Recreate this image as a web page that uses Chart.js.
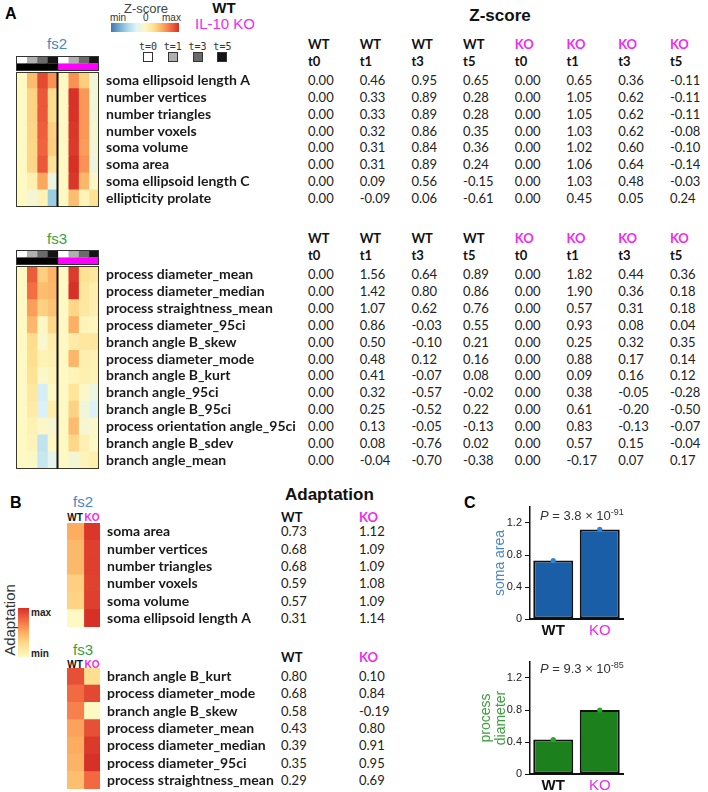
<!DOCTYPE html>
<html><head><meta charset="utf-8">
<script src="https://cdn.jsdelivr.net/npm/chart.js@4.4.1/dist/chart.umd.min.js"></script>
<style>
html,body{margin:0;padding:0;background:#fff;overflow:hidden;}
#root{position:relative;width:708px;height:792px;overflow:hidden;font-family:Lato,"Liberation Sans",sans-serif;}
.t{position:absolute;white-space:nowrap;}
canvas{position:absolute;}
.box{position:absolute;box-sizing:border-box;}
</style></head><body><div id="root"></div>
<script>
// ---------------- DATA ----------------
const zGroups = ['WT','WT','WT','WT','KO','KO','KO','KO'];
const zTimes  = ['t0','t1','t3','t5','t0','t1','t3','t5'];
const timeLegend = ['t=0','t=1','t=3','t=5'];

const fs2Features = ['soma ellipsoid length A','number vertices','number triangles','number voxels',
  'soma volume','soma area','soma ellipsoid length C','ellipticity prolate'];
const fs2Z = [
  [0.00, 0.46, 0.95, 0.65, 0.00, 0.65, 0.36,-0.11],
  [0.00, 0.33, 0.89, 0.28, 0.00, 1.05, 0.62,-0.11],
  [0.00, 0.33, 0.89, 0.28, 0.00, 1.05, 0.62,-0.11],
  [0.00, 0.32, 0.86, 0.35, 0.00, 1.03, 0.62,-0.08],
  [0.00, 0.31, 0.84, 0.36, 0.00, 1.02, 0.60,-0.10],
  [0.00, 0.31, 0.89, 0.24, 0.00, 1.06, 0.64,-0.14],
  [0.00, 0.09, 0.56,-0.15, 0.00, 1.03, 0.48,-0.03],
  [0.00,-0.09, 0.06,-0.61, 0.00, 0.45, 0.05, 0.24]
];
const fs3Features = ['process diameter_mean','process diameter_median','process straightness_mean',
  'process diameter_95ci','branch angle B_skew','process diameter_mode','branch angle B_kurt',
  'branch angle_95ci','branch angle B_95ci','process orientation angle_95ci','branch angle B_sdev','branch angle_mean'];
const fs3Z = [
  [0.00, 1.56, 0.64, 0.89, 0.00, 1.82, 0.44, 0.36],
  [0.00, 1.42, 0.80, 0.86, 0.00, 1.90, 0.36, 0.18],
  [0.00, 1.07, 0.62, 0.76, 0.00, 0.57, 0.31, 0.18],
  [0.00, 0.86,-0.03, 0.55, 0.00, 0.93, 0.08, 0.04],
  [0.00, 0.50,-0.10, 0.21, 0.00, 0.25, 0.32, 0.35],
  [0.00, 0.48, 0.12, 0.16, 0.00, 0.88, 0.17, 0.14],
  [0.00, 0.41,-0.07, 0.08, 0.00, 0.09, 0.16, 0.12],
  [0.00, 0.32,-0.57,-0.02, 0.00, 0.38,-0.05,-0.28],
  [0.00, 0.25,-0.52, 0.22, 0.00, 0.61,-0.20,-0.50],
  [0.00, 0.13,-0.05,-0.13, 0.00, 0.83,-0.13,-0.07],
  [0.00, 0.08,-0.76, 0.02, 0.00, 0.57, 0.15,-0.04],
  [0.00,-0.04,-0.70,-0.38, 0.00,-0.17, 0.07, 0.17]
];

const adGroups = ['WT','KO'];
const adFs2Features = ['soma area','number vertices','number triangles','number voxels','soma volume','soma ellipsoid length A'];
const adFs2WT = [0.73, 0.68, 0.68, 0.59, 0.57, 0.31];
const adFs2KO = [1.12, 1.09, 1.09, 1.08, 1.09, 1.14];
const adFs3Features = ['branch angle B_kurt','process diameter_mode','branch angle B_skew','process diameter_mean',
  'process diameter_median','process diameter_95ci','process straightness_mean'];
const adFs3WT = [0.80, 0.68, 0.58, 0.43, 0.39, 0.35, 0.29];
const adFs3KO = [0.10, 0.84,-0.19, 0.80, 0.91, 0.95, 0.69];

const cGroups = ['WT','KO'];
const somaAreaVals = [0.73, 1.12];
const processDiamVals = [0.43, 0.80];
const cTickLabels = [0, 0.4, 0.8, 1.2];

// ---------------- STYLE ----------------
const MAG = '#ee2bee';
const BLUE_T = '#4a86c6';
const GREEN_T = '#3a9e3a';
const posStops = ['#fef8c2','#fee090','#fdae61','#f46d43','#d73027'];
const negStops = ['#fef8c2','#e0f3f8','#abd9e9','#74add1','#4575b4'];
function h2r(h){return [1,3,5].map(i=>parseInt(h.substr(i,2),16));}
function interp(stops,t){
  t=Math.max(0,Math.min(1,t)); const n=stops.length-1;
  const i=Math.min(n-1,Math.floor(t*n)); const f=t*n-i;
  const a=h2r(stops[i]), b=h2r(stops[i+1]);
  return 'rgb('+a.map((v,k)=>Math.round(v+(b[k]-v)*f)).join(',')+')';
}
function zColorFn(rows){
  const vmax=Math.max(...rows.flat().map(Math.abs));
  return v => v>=0 ? interp(posStops, v/vmax) : interp(negStops, -v/vmax);
}
function adColorFn(a,b){
  const all=a.concat(b), mn=Math.min(...all), mx=Math.max(...all);
  return v => interp(posStops,(v-mn)/(mx-mn));
}

Chart.defaults.font.family='Lato';
Chart.defaults.animation=false;

const root=document.getElementById('root');
function txt(s,x,yc,o={}){
  const d=document.createElement('div'); d.className='t';
  const size=o.size||13, lh=o.lh||Math.round(size*1.3);
  d.style.cssText=`left:${x}px;top:${yc-lh/2}px;line-height:${lh}px;font-size:${size}px;font-family:${o.family||'Lato'};font-weight:${o.weight||'normal'};color:${o.color||'#1a1a1a'};`;
  if(o.center) d.style.transform='translateX(-50%)';
  if(o.html) d.innerHTML=s; else d.textContent=s;
  root.appendChild(d); return d;
}
function box(x,y,w,h,css){
  const d=document.createElement('div'); d.className='box';
  d.style.cssText=`left:${x}px;top:${y}px;width:${w}px;height:${h}px;`+css;
  root.appendChild(d); return d;
}
function mkCanvas(x,y,w,h){
  const c=document.createElement('canvas');
  c.width=w; c.height=h;
  c.style.cssText=`left:${x}px;top:${y}px;width:${w}px;height:${h}px;`;
  root.appendChild(c); return c;
}

const framePlugin={id:'frame',
  afterDatasetsDraw(chart,args,o){
    if(!o||!o.draw) return;
    const {ctx,chartArea:a,scales:{x}}=chart;
    ctx.save();
    ctx.strokeStyle=o.color||'#333'; ctx.lineWidth=o.width||1;
    ctx.strokeRect(a.left+0.5,a.top+0.5,a.right-a.left-1,a.bottom-a.top-1);
    if(o.divider!=null){
      const px=x.getPixelForValue(o.divider);
      ctx.strokeStyle=o.dividerColor||'#111'; ctx.lineWidth=o.dividerWidth||2;
      ctx.beginPath(); ctx.moveTo(px,a.top); ctx.lineTo(px,a.bottom); ctx.stroke();
    }
    ctx.restore();
  }};

function heatmap(o){
  const nC=o.rows[0].length;
  const W=o.plotW+(o.labelW||0);
  const cv=mkCanvas(o.x,o.y,W,o.h);
  const datasets=[];
  for(let c=0;c<nC;c++){
    datasets.push({data:o.rows.map(()=>1),
      backgroundColor:o.rows.map(r=>o.color(r[c])),
      borderWidth:0,barPercentage:1,categoryPercentage:o.catPct||1,inflateAmount:0.6});
  }
  return new Chart(cv,{type:'bar',data:{labels:o.labels,datasets},
    options:{indexAxis:'y',responsive:false,maintainAspectRatio:false,devicePixelRatio:1,animation:false,events:[],
      layout:{padding:0},
      plugins:{legend:{display:false},tooltip:{enabled:false},frame:o.frame||{}},
      scales:{
        x:{type:'linear',stacked:true,min:0,max:nC,display:false},
        y:{stacked:true,display:!!o.labelW,position:'right',grid:{display:false,drawTicks:false},border:{display:false},
           ticks:{autoSkip:false,padding:o.pad||7,color:'#1a1a1a',font:{family:'Lato',weight:'bold',size:14}},
           afterFit(s){s.width=o.labelW||0;s.paddingTop=0;s.paddingBottom=0;}}
      }},
    plugins:[framePlugin]});
}

// ---------------- PANEL A ----------------
txt('A',5,13,{size:16,weight:'bold',family:'Liberation Sans',color:'#000'});
txt('Z-score',146,8,{size:13,family:'Liberation Sans',color:'#444',center:true});
txt('min',110,17,{size:10,family:'Liberation Sans',color:'#333'});
txt('0',143,17,{size:10,family:'Liberation Sans',color:'#333'});
txt('max',162,17,{size:10,family:'Liberation Sans',color:'#333'});
box(111,23,68,9,'background:linear-gradient(to right,#4575b4,#74add1,#abd9e9,#e0f3f8,#fef8c2,#fee090,#fdae61,#f46d43,#d73027);');
txt('WT',224,8,{size:15,weight:'bold',family:'Liberation Sans',color:'#111',center:true});
txt('IL-10 KO',225,24,{size:15,family:'Liberation Sans',color:MAG,center:true});

const tShade={t0:'#ffffff',t1:'#b0b0b0',t3:'#6a6a6a',t5:'#141414'};
const gShade={WT:'#000000',KO:'#ff00ff'};
timeLegend.forEach((s,i)=>{
  const cx=148+i*24.8;
  txt(s,cx,46,{size:10,family:'DejaVu Sans Mono',color:'#333',center:true});
  box(cx-5,52,10,10,'border:1px solid #333;background:'+tShade[zTimes[i]]+';');
});

function zBlock(features,rows,top,h,title,titleColor,titleY){
  txt(title,57,titleY,{size:15,family:'Liberation Sans',color:titleColor,center:true});
  heatmap({x:16,y:top-16,plotW:83,labelW:0,h:15,labels:['time','group'],catPct:0.86,
    rows:[zTimes.map(t=>tShade[t]),zGroups.map(g=>gShade[g])],color:v=>v,
    frame:{draw:true,color:'#333',width:1}});
  heatmap({x:16,y:top,plotW:83,labelW:200,h:h,labels:features,rows:rows,color:zColorFn(rows),
    frame:{draw:true,color:'#3a3a2a',width:1,divider:4,dividerWidth:2,dividerColor:'#111'}});
  const colX=zGroups.map((g,i)=>308+i*51.7);
  const rowH=h/rows.length;
  zGroups.forEach((g,i)=>{
    txt(g,colX[i],top-28,{weight:'bold',color:g==='KO'?MAG:'#111'});
    txt(zTimes[i],colX[i],top-11,{weight:'bold',color:'#111'});
  });
  rows.forEach((r,ri)=>r.forEach((v,ci)=>{
    txt(v.toFixed(2),colX[ci],top+rowH*(ri+0.5),{color:'#222'});
  }));
}
txt('Z-score',500,16,{size:17,weight:'bold',family:'Liberation Sans',color:'#111',center:true});
zBlock(fs2Features,fs2Z,72,135,'fs2',BLUE_T,44);
zBlock(fs3Features,fs3Z,266,203,'fs3',GREEN_T,239);

// ---------------- PANEL B ----------------
txt('B',10,502,{size:16,weight:'bold',family:'Liberation Sans',color:'#000'});
txt('Adaptation',285,495,{size:17,weight:'bold',family:'Liberation Sans',color:'#111'});
box(18,608,11,49,'background:linear-gradient(to top,#fef8c2,#fee090,#fdae61,#f46d43,#d73027);');
txt('max',31,612,{size:10,weight:'bold',family:'Liberation Sans',color:'#222'});
txt('min',31,653,{size:10,weight:'bold',family:'Liberation Sans',color:'#222'});
(function(){
  const d=txt('Adaptation',0,0,{size:15,family:'Liberation Sans',color:'#333'});
  d.style.left='10px'; d.style.top='620px';
  d.style.transform='translate(-50%,-50%) rotate(-90deg)';
})();

function adBlock(features,wt,ko,top,h,title,titleColor,titleY,gY,headY){
  txt(title,83,titleY,{size:15,family:'Liberation Sans',color:titleColor,center:true});
  txt('WT',75,gY,{size:10,weight:'bold',family:'Liberation Sans',color:'#111',center:true});
  txt('KO',92,gY,{size:10,weight:'bold',family:'Liberation Sans',color:MAG,center:true});
  const rows=wt.map((v,i)=>[v,ko[i]]);
  heatmap({x:67,y:top,plotW:33,labelW:175,h:h,labels:features,rows:rows,color:adColorFn(wt,ko)});
  const colX=[281,359];
  txt(adGroups[0],colX[0],headY,{weight:'bold',color:'#111'});
  txt(adGroups[1],colX[1],headY,{weight:'bold',color:MAG});
  const rowH=h/rows.length;
  rows.forEach((r,ri)=>r.forEach((v,ci)=>txt(v.toFixed(2),colX[ci],top+rowH*(ri+0.5),{color:'#222'})));
}
adBlock(adFs2Features,adFs2WT,adFs2KO,523,104,'fs2',BLUE_T,502,517,517);
adBlock(adFs3Features,adFs3WT,adFs3KO,668,121,'fs3',GREEN_T,650,664,657);

// ---------------- PANEL C ----------------
txt('C',464,502,{size:16,weight:'bold',family:'Liberation Sans',color:'#000'});
function barChart(o){
  const W=o.axisW+93+5, H=145;
  const cv=mkCanvas(o.x,o.y,W,H);
  new Chart(cv,{type:'bar',
    data:{labels:cGroups,datasets:[
      {type:'line',data:o.values,showLine:false,pointRadius:2.6,pointBackgroundColor:o.pointColor,pointBorderWidth:0,order:0},
      {type:'bar',data:o.values,backgroundColor:o.color,borderColor:'#111',borderWidth:2,borderSkipped:false,
       barPercentage:0.86,categoryPercentage:1,order:1}
    ]},
    options:{responsive:false,maintainAspectRatio:false,devicePixelRatio:1,animation:false,events:[],
      layout:{padding:{top:7,right:5,left:0,bottom:0}},
      plugins:{legend:{display:false},tooltip:{enabled:false}},
      scales:{
        x:{grid:{display:false,drawTicks:false},border:{color:'#111',width:2},
           ticks:{padding:3,color:c=>c.index===0?'#111':MAG,
             font:c=>({family:'Liberation Sans',size:15,weight:c.index===0?'bold':'normal'})},
           afterFit(s){s.height=H-7-112;s.paddingLeft=0;s.paddingRight=0;}},
        y:{min:0,max:1.4,
           ticks:{stepSize:0.2,padding:3,color:'#222',font:{family:'Liberation Sans',size:11},
             callback:v=>{const r=Math.round(v*10)/10; return cTickLabels.includes(r)?(r===0?'0':r.toFixed(1)):'';}},
           grid:{drawOnChartArea:false,drawTicks:true,tickLength:5,color:'#111'},
           border:{color:'#111',width:1.5},
           title:{display:true,text:o.title,color:o.titleColor,font:{family:'Liberation Sans',size:14,lineHeight:1.05},padding:{top:0,bottom:0}},
           afterFit(s){s.width=o.axisW;s.paddingTop=0;s.paddingBottom=0;}}
      }}});
}
barChart({x:493,y:500,axisW:37,values:somaAreaVals,color:'#1b5ea8',pointColor:'#2f86d6',title:'soma area',titleColor:BLUE_T});
barChart({x:479,y:655,axisW:51,values:processDiamVals,color:'#1c801c',pointColor:'#2aa82a',title:['process','diameter'],titleColor:GREEN_T});
txt('<i>P</i> = 3.8 × 10<sup style="font-size:9px;vertical-align:5px">-91</sup>',540,512,{html:true,size:13,family:'Liberation Sans',color:'#333'});
txt('<i>P</i> = 9.3 × 10<sup style="font-size:9px;vertical-align:5px">-85</sup>',540,665,{html:true,size:13,family:'Liberation Sans',color:'#333'});
</script>
</body></html>
